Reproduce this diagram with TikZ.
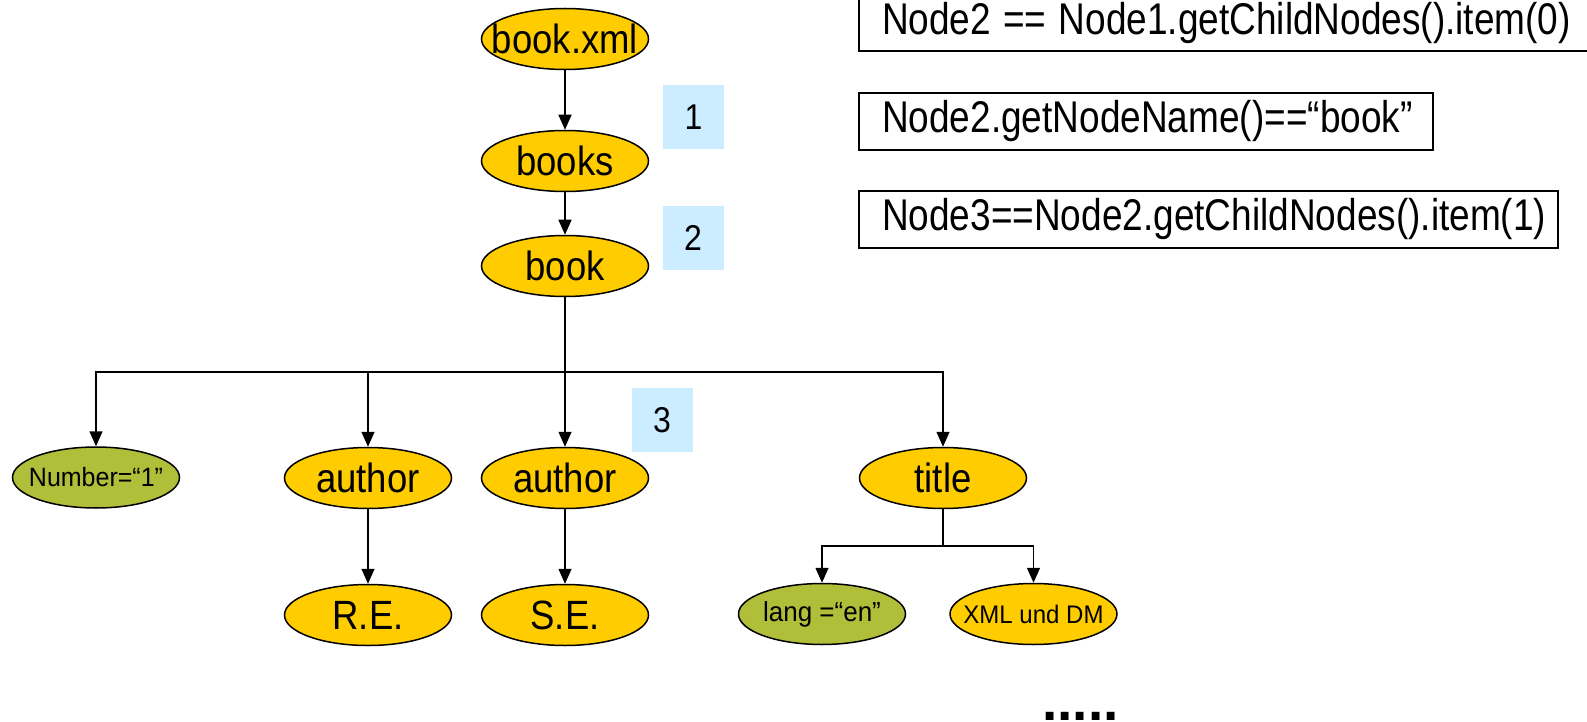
\documentclass[tikz,border=0pt]{standalone}
\usepackage{fontspec}
\setmainfont{Liberation Sans}
\usepackage{graphicx}
\usetikzlibrary{shapes.geometric,arrows.meta}
\definecolor{gold}{RGB}{255,204,0}
\definecolor{myolive}{RGB}{176,190,58}
\definecolor{lblue}{RGB}{204,236,255}
\newcommand\myfs[1]{\fontsize{#1pt}{#1pt}\selectfont}
\newcommand\vst[2]{\scalebox{1}[#1]{#2}}
\tikzset{
  ell/.style={ellipse, draw=black, line width=1.5pt, fill=gold, minimum width=167pt, minimum height=61pt, inner sep=0pt},
  attr/.style={ell, fill=myolive},
  lbl/.style={inner sep=0pt, font=\myfs{36.5}},
  slbl/.style={inner sep=0pt, font=\myfs{26}},
  numbox/.style={fill=lblue, minimum width=61pt, minimum height=64pt, inner sep=0pt, font=\myfs{32}},
  codebox/.style={draw=black, line width=1.5pt, rectangle, inner xsep=23pt, inner ysep=0pt, align=left, font=\myfs{37}},
  arr/.style={line width=1.5pt, -{Triangle[length=15pt,width=13pt]}},
  conn/.style={line width=1.5pt}
}
\begin{document}
\begin{tikzpicture}[x=1pt,y=-1pt]
\useasboundingbox (0,0) rectangle (1587,722);
% tree nodes
\node[ell, label={[lbl]center:{\vst{1.12}{book.xml}}}] (xml) at (565,39) {};
\node[ell, label={[lbl]center:{\vst{1.12}{books}}}] (books) at (565,161) {};
\node[ell, label={[lbl]center:{\vst{1.12}{book}}}] (book) at (565,266) {};
\node[attr, label={[slbl, font=\myfs{25}]center:{\vst{1.06}{Number=“1”}}}] (num) at (96,477.5) {};
\node[ell, label={[lbl]center:{\vst{1.12}{author}}}] (au1) at (368,478) {};
\node[ell, label={[lbl]center:{\vst{1.12}{author}}}] (au2) at (565,478) {};
\node[ell, label={[lbl]center:{\vst{1.12}{title}}}] (title) at (943,478) {};
\node[ell, label={[lbl]center:{\vst{1.12}{R.E.}}}] (re) at (368,615) {};
\node[ell, label={[lbl]center:{\vst{1.12}{S.E.}}}] (se) at (565,615) {};
\node[attr, label={[slbl]center:{\vst{1.06}{lang =“en”}}}] (lang) at (822,614) {};
\node[ell, label={[slbl, font=\myfs{24}]center:{\vst{1.06}{XML und DM}}}] (xmldm) at (1033.5,614) {};
% step numbers
\node[numbox] (n1) at (693.5,117) {\vst{1.12}{1}};
\node[numbox] (n2) at (693,238) {\vst{1.12}{2}};
\node[numbox] (n3) at (662,420) {\vst{1.12}{3}};
% code boxes
\node[codebox, minimum width=733pt, minimum height=56pt, text width=687pt] (c1) at (1225.5,23) {\vst{1.2}{Node2 == Node1.getChildNodes().item(0)}};
\node[codebox, minimum width=574pt, minimum height=57pt, text width=528pt] (c2) at (1146,121.5) {\vst{1.2}{Node2.getNodeName()==“book”}};
\node[codebox, minimum width=699pt, minimum height=57pt, text width=653pt] (c3) at (1208.5,219.5) {\vst{1.2}{Node3==Node2.getChildNodes().item(1)}};
% dots
\node[anchor=base west, inner sep=0pt, font=\myfs{55}\bfseries] (dots) at (1042,720) {.....};
% connectors
\coordinate (bar) at (565,372);
\coordinate (tbar) at (943,546);
\draw[arr] (xml) -- (books);
\draw[arr] (books) -- (book);
\draw[conn] (book) -- (bar);
\draw[arr] (bar) -| (num);
\draw[arr] (bar) -| (au1);
\draw[arr] (bar) -- (au2);
\draw[arr] (bar) -| (title);
\draw[arr] (au1) -- (re);
\draw[arr] (au2) -- (se);
\draw[conn] (title) -- (tbar);
\draw[arr] (tbar) -| (lang);
\draw[arr] (tbar) -| (xmldm);
\end{tikzpicture}
\end{document}
